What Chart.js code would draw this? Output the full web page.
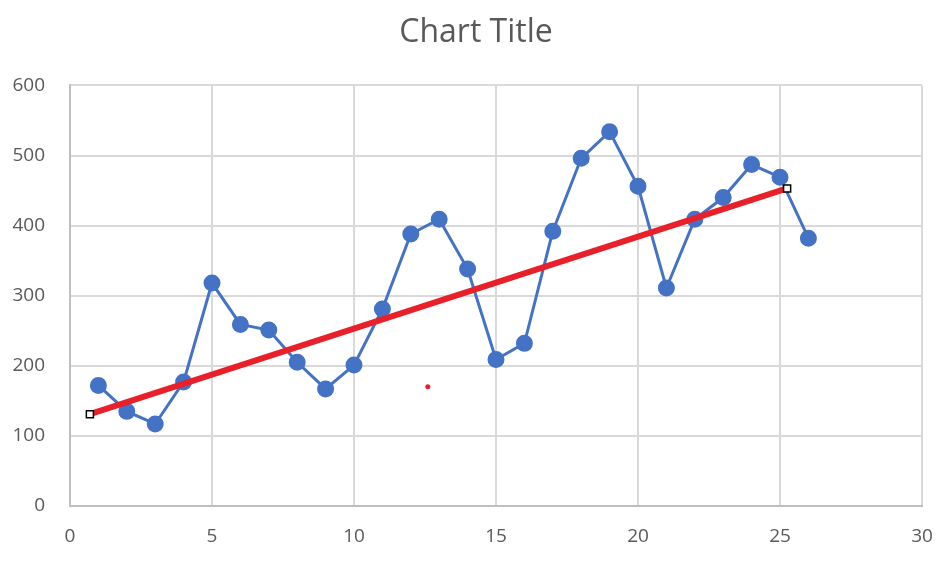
<!DOCTYPE html>
<html lang="en">
<head>
    <meta charset="UTF-8">
    <title>Chart Title</title>
    <script src="https://cdn.jsdelivr.net/npm/chart.js"></script>
    <style>
        html, body { margin: 0; padding: 0; background: #ffffff; }
        #wrap { width: 945px; height: 562px; position: relative; }
    </style>
</head>
<body>
    <div id="wrap"><canvas id="chart" width="945" height="562"></canvas></div>

    <script>
        // series
        const xValues = [1, 2, 3, 4, 5, 6, 7, 8, 9, 10, 11, 12, 13, 14, 15, 16, 17, 18, 19, 20, 21, 22, 23, 24, 25, 26];
        const yValues = [172, 135, 117, 177, 318, 259, 251, 205, 167, 201, 281, 388, 409, 338, 209, 232, 392, 496, 534, 456, 311, 409, 440, 487, 469, 382];

        // red trend line, ends marked with squares
        const trendX = [0.7, 25.25];
        const trendY = [131, 453];

        // stray red dot
        const dotX = [12.6];
        const dotY = [170];

        const xTicks = [0, 5, 10, 15, 20, 25, 30];
        const yTicks = [0, 100, 200, 300, 400, 500, 600];

        const toPoints = (xs, ys) => xs.map((x, i) => ({ x: x, y: ys[i] }));

        const font = { family: 'Open Sans, Liberation Sans, sans-serif', size: 19 };

        // nudge the title a bit to the right, like the original
        const shiftTitle = {
            id: 'shiftTitle',
            afterLayout(chart) {
                if (chart.titleBlock) {
                    chart.titleBlock.left += 30;
                }
            }
        };

        new Chart(document.getElementById('chart'), {
            type: 'scatter',
            data: {
                datasets: [
                    {
                        data: toPoints(trendX, trendY),
                        showLine: true,
                        borderColor: '#e8202a',
                        borderWidth: 6,
                        pointStyle: 'rect',
                        pointRadius: 5,
                        pointBackgroundColor: '#ffffff',
                        pointBorderColor: '#000000',
                        pointBorderWidth: 1.5,
                        order: 0
                    },
                    {
                        data: toPoints(dotX, dotY),
                        pointRadius: 2.5,
                        pointBackgroundColor: '#e8202a',
                        pointBorderColor: '#e8202a',
                        pointBorderWidth: 0,
                        order: 0
                    },
                    {
                        data: toPoints(xValues, yValues),
                        showLine: true,
                        borderColor: '#4472c4',
                        borderWidth: 3,
                        pointRadius: 7,
                        pointBackgroundColor: '#4472c4',
                        pointBorderColor: '#4472c4',
                        order: 1
                    }
                ]
            },
            options: {
                responsive: false,
                animation: false,
                layout: { padding: { left: 0, right: 23, top: 0, bottom: 0 } },
                plugins: {
                    legend: { display: false },
                    tooltip: { enabled: false },
                    title: {
                        display: true,
                        text: 'Chart Title',
                        color: '#595959',
                        font: { family: font.family, size: 32, weight: 'normal' },
                        padding: { top: 14, bottom: 33 }
                    }
                },
                scales: {
                    x: {
                        type: 'linear',
                        min: 0,
                        max: 30,
                        afterBuildTicks: axis => { axis.ticks = xTicks.map(v => ({ value: v })); },
                        afterFit: axis => {
                            axis.height = 56;
                            axis.paddingLeft = 0;
                            axis.paddingRight = 0;
                        },
                        ticks: { color: '#595959', font: font, padding: 19, maxRotation: 0 },
                        grid: { color: '#d9d9d9', lineWidth: 2, drawTicks: false },
                        border: { color: '#bfbfbf', width: 2 }
                    },
                    y: {
                        min: 0,
                        max: 600,
                        afterBuildTicks: axis => { axis.ticks = yTicks.map(v => ({ value: v })); },
                        afterFit: axis => {
                            axis.width = 70;
                            axis.paddingTop = 0;
                            axis.paddingBottom = 0;
                        },
                        ticks: { color: '#595959', font: font, padding: 25 },
                        grid: { color: '#d9d9d9', lineWidth: 2, drawTicks: false },
                        border: { color: '#bfbfbf', width: 2 }
                    }
                }
            },
            plugins: [shiftTitle]
        });
    </script>
</body>
</html>
